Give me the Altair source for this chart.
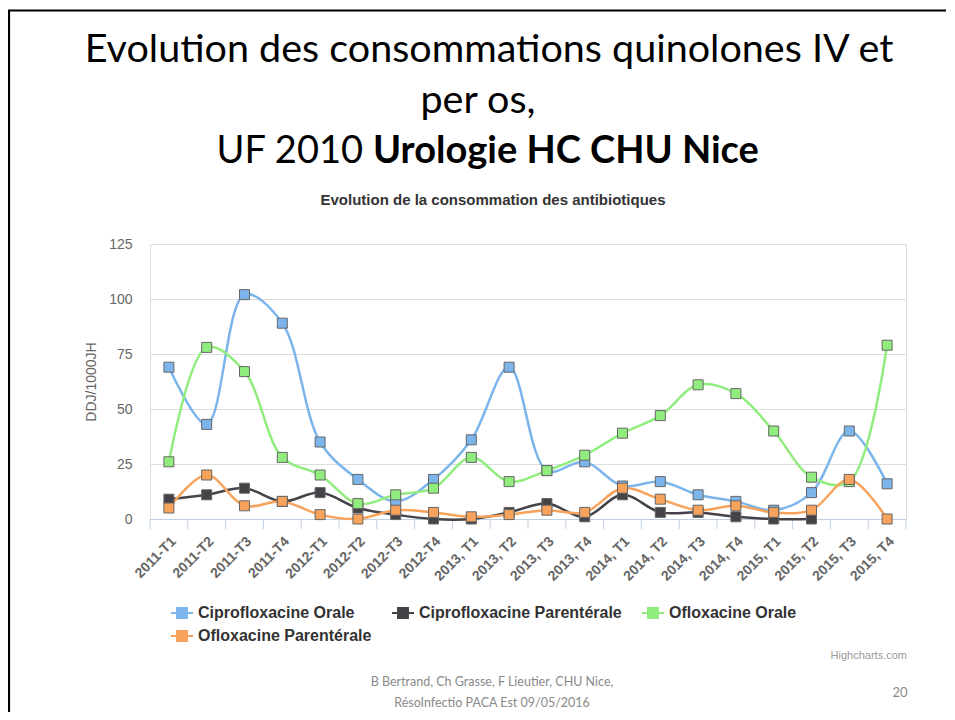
import altair as alt
import pandas as pd

categories = ["2011-T1", "2011-T2", "2011-T3", "2011-T4", "2012-T1", "2012-T2", "2012-T3", "2012-T4",
              "2013, T1", "2013, T2", "2013, T3", "2013, T4", "2014, T1", "2014, T2", "2014, T3", "2014, T4",
              "2015, T1", "2015, T2", "2015, T3", "2015, T4"]

series_names = ["Ciprofloxacine Orale", "Ciprofloxacine Parentérale", "Ofloxacine Orale", "Ofloxacine Parentérale"]
series_colors = ["#7cb5ec", "#434348", "#90ed7d", "#f7a35c"]

cipro_orale = [69, 43, 102, 89, 35, 18, 8, 18, 36, 69, 22, 26, 15, 17, 11, 8, 4, 12, 40, 16]
cipro_parent = [9, 11, 14, 8, 12, 5, 2, 0, 0, 3, 7, 1, 11, 3, 3, 1, 0, 0, None, None]
oflox_orale = [26, 78, 67, 28, 20, 7, 11, 14, 28, 17, 22, 29, 39, 47, 61, 57, 40, 19, 17, 79]
oflox_parent = [5, 20, 6, 8, 2, 0, 4, 3, 1, 2, 4, 3, 14, 9, 4, 6, 3, 4, 18, 0]

slide_title_1 = "Evolution des consommations quinolones IV et"
slide_title_2 = "per os,"
slide_title_3a = "UF 2010"
slide_title_3b = "Urologie HC CHU Nice"
chart_title = "Evolution de la consommation des antibiotiques"
y_title = "DDJ/1000JH"
credits = "Highcharts.com"
footer_1 = "B Bertrand, Ch Grasse, F Lieutier, CHU Nice,"
footer_2 = "RésoInfectio PACA Est 09/05/2016"
page_no = "20"

rows = []
for name, vals in zip(series_names, [cipro_orale, cipro_parent, oflox_orale, oflox_parent]):
    for c, v in zip(categories, vals):
        if v is not None:
            rows.append({"cat": c, "series": name, "value": v})
df = pd.DataFrame(rows)

W, H = 756, 275
CHART_FONT = "Liberation Sans"
SLIDE_FONT = "Lato"

xscale = alt.Scale(type="band", domain=categories, paddingInner=0, paddingOuter=0)
yscale = alt.Scale(domain=[0, 125], nice=False)
color_scale = alt.Scale(domain=series_names, range=series_colors)

x_enc = alt.X("cat:N", scale=xscale, bandPosition=0.5,
              axis=alt.Axis(title=None, labelAngle=-45, labelFontSize=14, labelFontWeight="bold",
                            labelColor="#666666", labelFont=CHART_FONT, ticks=False, grid=False,
                            domainColor="#C0D0E0", domainWidth=1, labelPadding=20, labelOffset=5))
y_enc = alt.Y("value:Q", scale=yscale,
              axis=alt.Axis(values=[0, 25, 50, 75, 100, 125], grid=True, gridColor="#DDDDDD",
                            domain=False, ticks=False, labelPadding=18, labelFontSize=14,
                            labelColor="#666666", labelFont=CHART_FONT, title=y_title,
                            titleFontSize=14, titleFontWeight="normal", titleColor="#666666",
                            titleFont=CHART_FONT, titlePadding=10))
color_enc = alt.Color("series:N", scale=color_scale, sort=series_names,
                      legend=alt.Legend(title=None, orient="none", legendX=20, legendY=357,
                                        direction="horizontal", columns=3, gridAlign="none",
                                        columnPadding=16, rowPadding=2,
                                        symbolType="M-1,0H-0.45M0.45,0H1M-0.45,-0.45H0.45V0.45H-0.45Z",
                                        symbolSize=484, symbolStrokeWidth=2, labelOffset=4,
                                        labelFont=CHART_FONT, labelFontSize=16, labelFontWeight="bold",
                                        labelColor="#333333", labelLimit=400))

base = alt.Chart(df)
lines = base.mark_line(interpolate="catmull-rom", strokeWidth=2.5).encode(
    x=x_enc, y=y_enc, color=color_enc, detail="series:N")
points = base.mark_point(shape="square", filled=True, size=100, stroke="#666666",
                         strokeWidth=1, opacity=1).encode(x=x_enc, y=y_enc, color=color_enc)

cat_df = pd.DataFrame({"cat": categories})
ticks_left = alt.Chart(cat_df).mark_rule(color="#C0D0E0", strokeWidth=1).encode(
    x=alt.X("cat:N", scale=xscale, bandPosition=0), y=alt.value(H), y2=alt.value(H + 10))
ticks_right = alt.Chart(pd.DataFrame({"cat": categories[-1:]})).mark_rule(color="#C0D0E0", strokeWidth=1).encode(
    x=alt.X("cat:N", scale=xscale, bandPosition=1), y=alt.value(H), y2=alt.value(H + 10))


def txt(s, x, y, **kw):
    return alt.Chart(pd.DataFrame({"t": [s]})).mark_text(**kw).encode(
        text="t:N", x=alt.value(x), y=alt.value(y))


one = pd.DataFrame({"a": [0]})
border_left = alt.Chart(one).mark_rule(color="#000000", strokeWidth=2.2).encode(
    x=alt.value(-141), y=alt.value(-234), y2=alt.value(480))
border_top = alt.Chart(one).mark_rule(color="#000000", strokeWidth=2.2).encode(
    x=alt.value(-142), x2=alt.value(810), y=alt.value(-233.5))

texts = [
    txt(slide_title_1, 339, -182, font=SLIDE_FONT, fontSize=39.5, align="center", baseline="alphabetic", color="#000000"),
    txt(slide_title_2, 328, -131, font=SLIDE_FONT, fontSize=39.5, align="center", baseline="alphabetic", color="#000000"),
    txt(slide_title_3a, 213, -81, font=SLIDE_FONT, fontSize=38, align="right", baseline="alphabetic", color="#000000"),
    txt(slide_title_3b, 223, -81, font=SLIDE_FONT, fontSize=38, fontWeight="bold", align="left", baseline="alphabetic", color="#000000"),
    txt(chart_title, 343, -44, font=CHART_FONT, fontSize=15, fontWeight="bold", align="center", baseline="middle", color="#333333"),
    txt(credits, 757, 412, font=CHART_FONT, fontSize=11, align="right", baseline="middle", color="#999999"),
    txt(footer_1, 342, 438, font=SLIDE_FONT, fontSize=12.5, align="center", baseline="middle", color="#8a8a8a"),
    txt(footer_2, 342, 459, font=SLIDE_FONT, fontSize=12.5, align="center", baseline="middle", color="#8a8a8a"),
    txt(page_no, 750, 449, font=SLIDE_FONT, fontSize=13, align="center", baseline="middle", color="#8a8a8a"),
]

chart = alt.layer(ticks_left, ticks_right, lines, points, border_left, border_top, *texts).properties(
    width=W, height=H,
    padding={"left": 142, "top": 236, "right": 40, "bottom": 193},
    autosize=alt.AutoSizeParams(type="none"),
).configure_view(stroke=None).configure(background="#ffffff")

chart.save("out.html", embed_options={"renderer": "svg", "actions": False})
